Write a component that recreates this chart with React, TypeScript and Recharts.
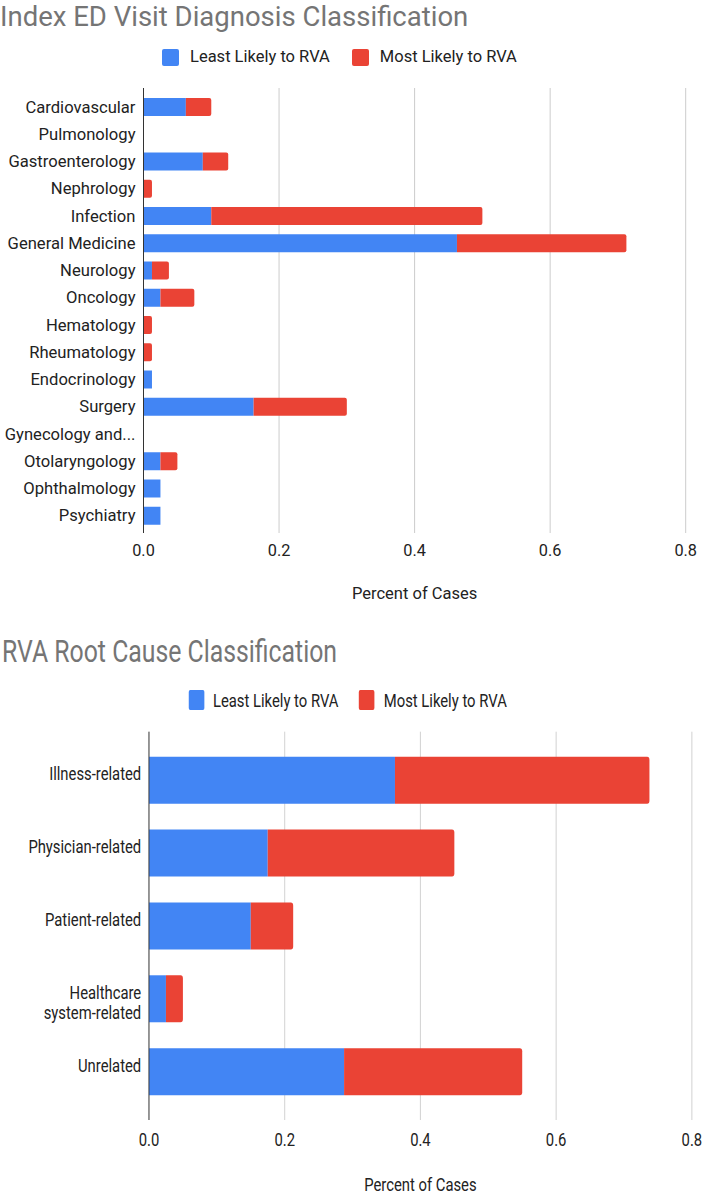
import React from 'react';
import { BarChart, Bar, XAxis, YAxis, CartesianGrid, Label, Text } from 'recharts';

// Share of cases in each group (least / most likely to return visit admission)
const diagnosisCategories = [
  'Cardiovascular',
  'Pulmonology',
  'Gastroenterology',
  'Nephrology',
  'Infection',
  'General Medicine',
  'Neurology',
  'Oncology',
  'Hematology',
  'Rheumatology',
  'Endocrinology',
  'Surgery',
  'Gynecology and...',
  'Otolaryngology',
  'Ophthalmology',
  'Psychiatry',
];
const diagnosisLeast = [0.0625, 0, 0.0875, 0, 0.1, 0.4625, 0.0125, 0.025, 0, 0, 0.0125, 0.1625, 0, 0.025, 0.025, 0.025];
const diagnosisMost = [0.0375, 0, 0.0375, 0.0125, 0.4, 0.25, 0.025, 0.05, 0.0125, 0.0125, 0, 0.1375, 0, 0.025, 0, 0];

const causeCategories = [
  'Illness-related',
  'Physician-related',
  'Patient-related',
  'Healthcare system-related',
  'Unrelated',
];
const causeLeast = [0.3625, 0.175, 0.15, 0.025, 0.2875];
const causeMost = [0.375, 0.275, 0.0625, 0.025, 0.2625];

const percentTicks = [0, 0.2, 0.4, 0.6, 0.8];
const seriesNames = ['Least Likely to RVA', 'Most Likely to RVA'];

const BLUE = '#4285f4';
const RED = '#ea4335';
const FONT = 'Roboto, "Noto Sans", sans-serif';
const INK = '#222222';

const diagnosisData = diagnosisCategories.map((name, i) => ({
  name,
  least: diagnosisLeast[i],
  most: diagnosisMost[i],
}));

const causeData = causeCategories.map((name, i) => ({
  name,
  least: causeLeast[i],
  most: causeMost[i],
}));

interface LegendProps {
  left: number;
  top: number;
  size: number;
  fontSize: number;
  iconGap: number;
  itemGap: number;
}

const LegendRow: React.FC<LegendProps> = ({ left, top, size, fontSize, iconGap, itemGap }) => (
  <div
    style={{
      position: 'absolute',
      left,
      top,
      height: size,
      display: 'flex',
      alignItems: 'center',
      fontSize,
      lineHeight: 1,
      color: INK,
      whiteSpace: 'nowrap',
    }}
  >
    {seriesNames.map((s, i) => (
      <div key={s} style={{ display: 'flex', alignItems: 'center', marginLeft: i === 0 ? 0 : itemGap }}>
        <div style={{ width: size, height: size, borderRadius: 2, background: i === 0 ? BLUE : RED }} />
        <span style={{ marginLeft: iconGap }}>{s}</span>
      </div>
    ))}
  </div>
);

const CauseTick = (props: any) => {
  const { x, y, payload } = props;
  return (
    <Text
      x={x}
      y={y}
      width={165}
      textAnchor="end"
      verticalAnchor="middle"
      lineHeight={20}
      fontSize={19}
      fill={INK}
      style={{ fontFamily: FONT, fontSize: 19 }}
    >
      {payload.value}
    </Text>
  );
};

const fmt = (v: number) => v.toFixed(1);

const App: React.FC = () => {
  return (
    <div
      style={{
        position: 'absolute',
        left: 0,
        top: 0,
        width: 703,
        height: 1199,
        overflow: 'hidden',
        background: '#fff',
        fontFamily: FONT,
      }}
    >
      {/* Index ED visit diagnosis */}
      <div style={{ position: 'absolute', left: 0, top: 0, width: 703, height: 610 }}>
        <div
          style={{
            position: 'absolute',
            left: 0,
            top: 0,
            fontSize: 27.5,
            lineHeight: 'normal',
            color: '#757575',
            whiteSpace: 'nowrap',
          }}
        >
          Index ED Visit Diagnosis Classification
        </div>
        <LegendRow left={162} top={48.5} size={17} fontSize={16.5} iconGap={11} itemGap={22} />
        <BarChart
          width={703}
          height={610}
          data={diagnosisData}
          layout="vertical"
          margin={{ top: 88, right: 17.3, bottom: 47, left: 0 }}
          barSize={18}
        >
          <CartesianGrid horizontal={false} stroke="#cccccc" />
          <XAxis
            type="number"
            domain={[0, 0.8]}
            ticks={percentTicks}
            tickFormatter={fmt}
            axisLine={false}
            tickLine={false}
            tickMargin={5}
            height={30}
            tick={{ fill: INK, fontSize: 16.3 }}
          >
            <Label value="Percent of Cases" position="bottom" offset={24} fontSize={16.5} fill={INK} />
          </XAxis>
          <YAxis
            type="category"
            dataKey="name"
            width={143.5}
            padding={{ top: 5, bottom: 4 }}
            axisLine={{ stroke: '#333333' }}
            tickLine={false}
            tick={{ fill: INK, fontSize: 16.6 }}
            interval={0}
          />
          <Bar dataKey="least" name={seriesNames[0]} stackId="a" fill={BLUE} isAnimationActive={false} />
          <Bar
            dataKey="most"
            name={seriesNames[1]}
            stackId="a"
            fill={RED}
            radius={[0, 2, 2, 0]}
            isAnimationActive={false}
          />
        </BarChart>
      </div>

      {/* RVA root cause, drawn horizontally condensed like the source */}
      <div style={{ position: 'absolute', left: 0, top: 600, width: 703, height: 599, overflow: 'hidden' }}>
        <div
          style={{
            position: 'absolute',
            left: 0,
            top: 0,
            width: 901,
            height: 599,
            transform: 'scaleX(0.78)',
            transformOrigin: '0 0',
          }}
        >
          <div
            style={{
              position: 'absolute',
              left: 2.6,
              top: 36,
              fontSize: 31.8,
              lineHeight: 1,
              color: '#757575',
              whiteSpace: 'nowrap',
            }}
          >
            RVA Root Cause Classification
          </div>
          <LegendRow left={241.5} top={90} size={20} fontSize={19} iconGap={11.5} itemGap={26.5} />
          <BarChart
            width={901}
            height={599}
            data={causeData}
            layout="vertical"
            margin={{ top: 131.7, right: 14, bottom: 49, left: 0 }}
            barSize={47}
          >
            <CartesianGrid horizontal={false} stroke="#cccccc" />
            <XAxis
              type="number"
              domain={[0, 0.8]}
              ticks={percentTicks}
              tickFormatter={fmt}
              axisLine={false}
              tickLine={false}
              tickMargin={7}
              height={30}
              tick={{ fill: INK, fontSize: 19 }}
            >
              <Label value="Percent of Cases" position="bottom" offset={28} fontSize={19} fill={INK} />
            </XAxis>
            <YAxis
              type="category"
              dataKey="name"
              width={191}
              padding={{ top: 12, bottom: 12 }}
              axisLine={{ stroke: '#333333' }}
              tickLine={false}
              tickMargin={4}
              tick={CauseTick}
              interval={0}
            />
            <Bar dataKey="least" name={seriesNames[0]} stackId="a" fill={BLUE} isAnimationActive={false} />
            <Bar
              dataKey="most"
              name={seriesNames[1]}
              stackId="a"
              fill={RED}
              radius={[0, 3, 3, 0]}
              isAnimationActive={false}
            />
          </BarChart>
        </div>
      </div>
    </div>
  );
};

export default App;
